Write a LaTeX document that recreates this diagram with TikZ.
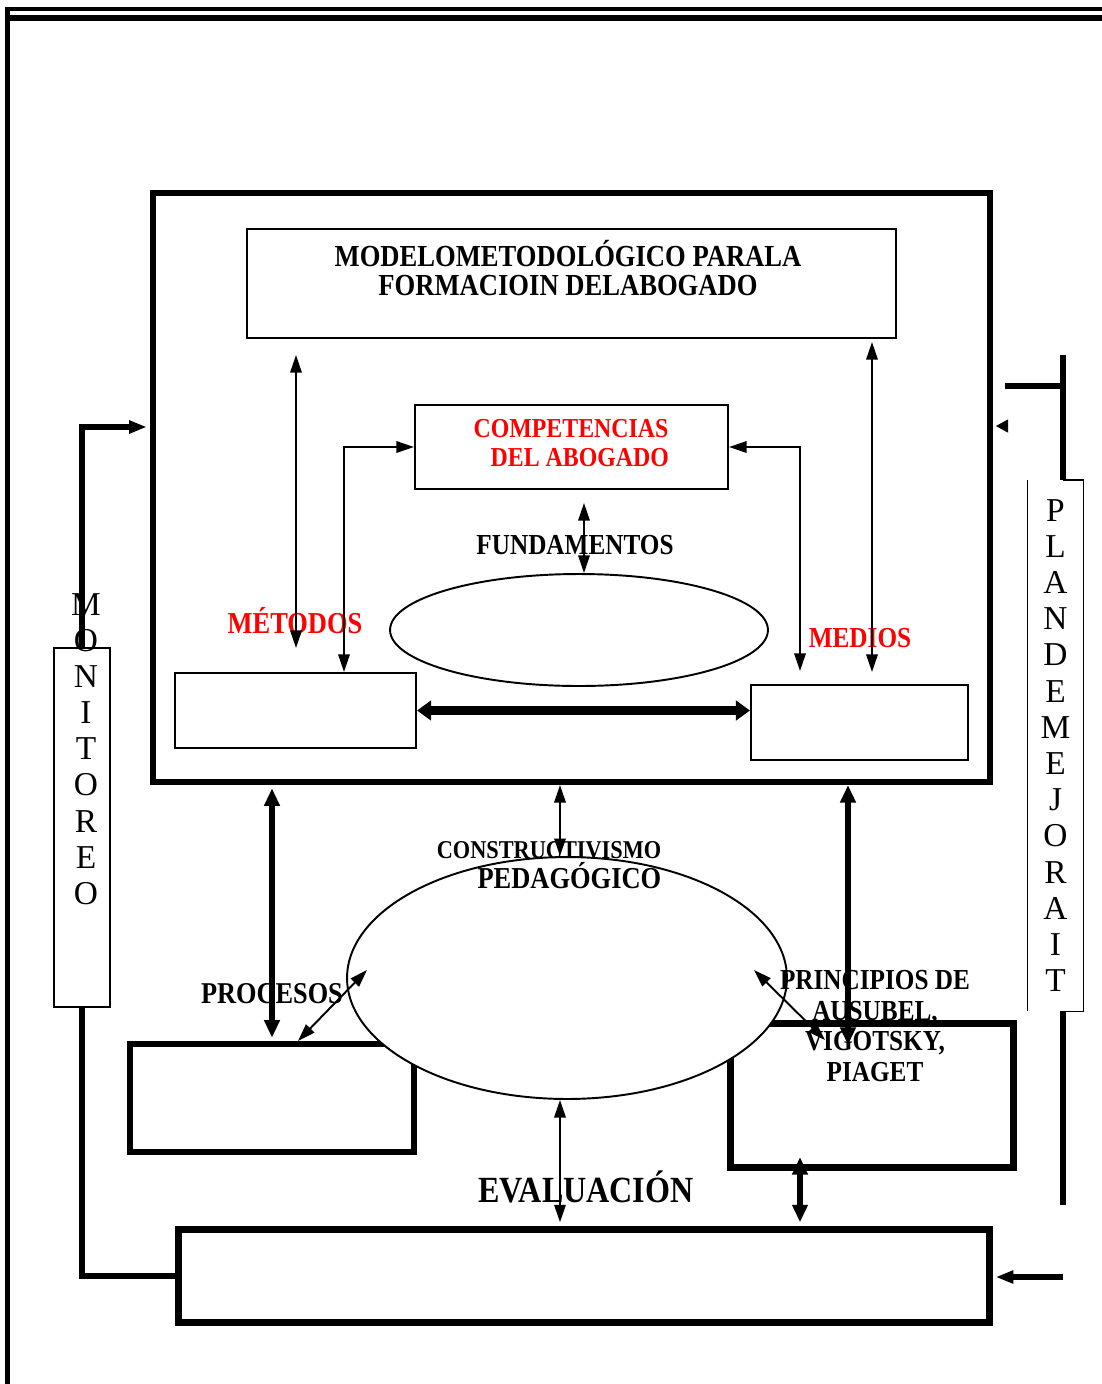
\documentclass[tikz,border=0pt]{standalone}
\usepackage{fontspec}
\setmainfont{Liberation Serif}[FakeStretch=0.87]
\newfontfamily\plainfont{Liberation Serif}
\usetikzlibrary{positioning,shapes.geometric,arrows.meta}
\tikzset{thinbox/.style={rectangle, draw=black, line width=1.2pt, inner sep=0pt},
heavybox/.style={rectangle, draw=black, line width=3.6pt, inner sep=0pt},
roundbox/.style={ellipse, draw=black, line width=1.1pt, fill=white, inner sep=0pt},
lbl/.style={font=\bfseries\fontsize{16.5}{17}\selectfont, align=center, inner sep=0pt},
redlbl/.style={lbl, text=red},
vert/.style={font=\plainfont\fontsize{19}{20.6}\selectfont, align=center, inner sep=0pt},
dbl/.style={line width=1.1pt, {Triangle[length=10pt,width=6.5pt]}-{Triangle[length=10pt,width=6.5pt]}},
dblthick/.style={line width=3pt, {Triangle[length=10pt,width=8.5pt]}-{Triangle[length=10pt,width=8.5pt]}},
dblbig/.style={line width=4.8pt, {Triangle[length=8pt,width=11pt]}-{Triangle[length=8pt,width=11pt]}},
heavyline/.style={line width=2.9pt},
}

\begin{document}
\begin{tikzpicture}[x=0.02cm, y=-0.02cm]
\useasboundingbox (0,0) rectangle (1102,1384);
\draw[line width=2.3pt] (5,9) -- (1102,9);
\draw[line width=3pt] (5,18) -- (1102,18);
\draw[line width=3pt] (7.5,7) -- (7.5,1384);

\node [heavybox, minimum width=16.74cm, minimum height=11.78cm] (model) at (571.5,487.5) {};
\node [thinbox, minimum width=12.98cm, minimum height=2.18cm] (titlebox) at (571.5,283.5) {};
\node [lbl, font=\bfseries\fontsize{17.4}{17}\selectfont] (titletext) at (568,268) {MODELOMETODOLÓGICO PARALA\\FORMACIOIN DELABOGADO};
\node [thinbox, minimum width=6.26cm, minimum height=1.68cm] (comp) at (571.5,447) {};
\node [redlbl, font=\bfseries\fontsize{15.6}{16.4}\selectfont] (comptext) at (571,443) {COMPETENCIAS\\\hspace*{10pt}DEL ABOGADO};
\node [roundbox, minimum width=7.56cm, minimum height=2.24cm] (fund) at (579,630) {};
\node [lbl] (fundtext) at (575,545) {FUNDAMENTOS};
\node [redlbl, font=\bfseries\fontsize{17.3}{17}\selectfont] (mettext) at (295,621) {MÉTODOS};
\node [redlbl] (medtext) at (860,638) {MEDIOS};
\node [thinbox, minimum width=4.82cm, minimum height=1.5cm] (metbox) at (295.5,710.5) {};
\node [thinbox, minimum width=4.34cm, minimum height=1.5cm] (medbox) at (859.5,722.5) {};

\coordinate (a1) at (296,355);
\coordinate (a2) at (296,648);
\coordinate (b1) at (872,342);
\coordinate (b2) at (872,672);
\coordinate (f1) at (584,503);
\draw[dbl] (a1) -- (a2);
\draw[dbl] (b1) -- (b2);
\draw[dbl] (f1) -- (f1 |- fund.north);
\draw[dbl] ([xshift=0.97cm]metbox.north) |- (comp.west);
\draw[dbl, shorten <=7.4pt] ([xshift=-1.19cm]medbox.north) |- (comp.east);
\draw[dblbig] (metbox.east) -- (metbox.east -| medbox.west);

\node [heavybox, minimum width=5.68cm, minimum height=2.16cm] (proc) at (272,1098) {};
\node [heavybox, line width=4.2pt, minimum width=5.66cm, minimum height=2.88cm] (princ) at (872,1095.5) {};
\node [roundbox, minimum width=8.8cm, minimum height=4.84cm] (constr) at (567,978) {};
\node [lbl, align=right, font=\bfseries\fontsize{17.3}{17}\selectfont] (constrtext) at (549,865) {{\fontsize{14.6}{17}\selectfont CONSTRUCTIVISMO}\\PEDAGÓGICO};
\node [lbl, font=\bfseries\fontsize{17.2}{17}\selectfont] (proctext) at (272,994) {PROCESOS};
\node [lbl, font=\bfseries\fontsize{16.5}{17.6}\selectfont] (princtext) at (875,1026) {PRINCIPIOS DE\\AUSUBEL,\\VIGOTSKY,\\PIAGET};
\node [lbl, font=\bfseries\fontsize{21}{22}\selectfont] (evaltext) at (586,1187) {EVALUACIÓN};
\node [heavybox, line width=4.2pt, minimum width=16.22cm, minimum height=1.86cm] (evalbox) at (584,1276) {};

\coordinate (c1) at (560,785);
\coordinate (c2) at (848,785);
\coordinate (c3) at (848,1045);
\coordinate (d1) at (298,1041);
\coordinate (d2) at (367,970);
\coordinate (e1) at (754,970);
\coordinate (e2) at (825,1040);
\coordinate (g1) at (800,1157);
\draw[dblthick, shorten <=1.8pt, shorten >=1.8pt] (model.south -| proc.north) -- (proc.north);
\draw[dbl] (c1) -- (c1 |- constr.north);
\draw[dblthick] (c2) -- (c3);
\draw[dbl] (d1) -- (d2);
\draw[dbl] (e1) -- (e2);
\draw[dbl, shorten >=2pt] (c1 |- constr.south) -- (c1 |- evalbox.north);
\draw[dblthick, shorten >=2pt] (g1) -- (g1 |- evalbox.north);

\node [thinbox, line width=0.9pt, minimum width=1.12cm, minimum height=7.18cm] (moni) at (82,827.5) {};
\node [vert] (monitext) at (86,749) {M\\O\\N\\I\\T\\O\\R\\E\\O};
\coordinate (m1) at (80,427);
\draw[heavyline, -{Triangle[length=10pt,width=7pt]}, shorten >=1.8pt] (moni.north) -- (moni.north |- m1) -- (m1 -| model.west);
\draw[heavyline] (moni.south) |- (evalbox.west);

\node [vert, minimum width=1.1cm, minimum height=10.62cm] (plan) at (1055.5,745.5) {P\\L\\A\\N\\D\\E\\M\\E\\J\\O\\R\\A\\I\\T};
\coordinate (p1) at (1063,355);
\coordinate (p2) at (1005,386);
\coordinate (p3) at (1063,1205);
\coordinate (p4) at (1063,1277);
\coordinate (p5) at (1008,426);
\draw[line width=0.9pt] (plan.north west) -- (plan.south west);
\draw[line width=0.9pt] (plan.north -| p1) -- (plan.north east) -- (plan.south east) -- (plan.south -| p1);
\draw[heavyline] (p1) -- (plan.north -| p1);
\draw[heavyline] (p2) -- (p2 -| p1);
\draw[heavyline] (plan.south -| p1) -- (p3);
\draw[heavyline, -{Triangle[length=10pt,width=7pt]}, shorten >=1.5pt] (p4) -- (p4 -| evalbox.east);
\draw[heavyline, -{Triangle[length=7pt,width=7pt]}, shorten >=1.5pt] (p5) -- (p5 -| model.east);
\end{tikzpicture}
\end{document}
